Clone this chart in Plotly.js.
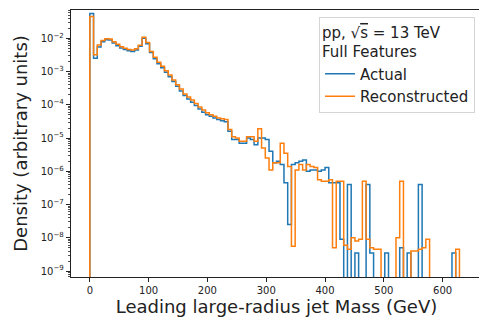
<!DOCTYPE html>
<html>
<head>
<meta charset="utf-8">
<script src="https://cdn.plot.ly/plotly-3.0.1.min.js"></script>
<style>
html,body{margin:0;padding:0;overflow:hidden;background:#fff;}
#chart{width:483px;height:321px;}
</style>
</head>
<body>
<div id="chart"></div>
<script>
// Histogram binning (GeV)
const binStart = 0;
const binWidth = 6.35;
const nBins = 100;

// Density per bin: Actual
const actual = [
  5.6e-2, 2.5e-3, 5.5e-3, 7.8e-3, 9.0e-3, 8.8e-3, 7.2e-3, 6.0e-3, 5.1e-3, 4.6e-3,
  4.2e-3, 4.0e-3, 4.4e-3, 5.8e-3, 1.0e-2, 6.8e-3, 3.7e-3, 2.4e-3, 1.7e-3, 1.3e-3,
  9.5e-4, 7.0e-4, 5.0e-4, 3.6e-4, 2.6e-4, 1.9e-4, 1.5e-4, 1.2e-4, 9.5e-5, 7.5e-5,
  6.0e-5, 5.0e-5, 4.5e-5, 4.0e-5, 3.6e-5, 3.3e-5, 3.1e-5, 1.6e-5, 9e-6, 9e-6,
  7e-6, 7e-6, 1.0e-5, 9e-6, 6.3e-6, 1.0e-5, 1.0e-5, 9e-6, 4e-6, 1.8e-6,
  2.0e-6, 1.6e-6, 4.5e-7, 2.5e-8, 1.6e-6, 1.8e-6, 2.0e-6, 2.2e-6, 1.0e-6, 1.1e-6,
  1.1e-6, 1.0e-6, 1.1e-6, 1.3e-6, 4.5e-7, 4.5e-7, 4.5e-7, 9e-9, 0, 4e-7,
  0, 3.5e-9, 0, 0, 4e-7, 3.5e-9, 0, 0, 0, 3.5e-9,
  0, 0, 0, 5e-9, 0, 3.5e-9, 0, 0, 4e-7, 0,
  0, 0, 0, 0, 0, 0, 0, 3.5e-9, 0, 0
];

// Density per bin: Reconstructed
const reconstructed = [
  4.5e-2, 3.2e-3, 6.3e-3, 8.5e-3, 9.6e-3, 9.5e-3, 7.8e-3, 6.6e-3, 5.6e-3, 5.0e-3,
  4.6e-3, 4.4e-3, 4.8e-3, 6.2e-3, 1.08e-2, 7.5e-3, 4.0e-3, 2.7e-3, 1.9e-3, 1.45e-3,
  1.05e-3, 7.8e-4, 5.6e-4, 4.0e-4, 3.0e-4, 2.1e-4, 1.7e-4, 1.4e-4, 1.1e-4, 8.5e-5,
  7.0e-5, 5.8e-5, 5.0e-5, 4.5e-5, 4.0e-5, 3.8e-5, 3.6e-5, 1.8e-5, 1.1e-5, 1.0e-5,
  8e-6, 8e-6, 1.1e-5, 1.1e-5, 8e-6, 1.9e-5, 5e-6, 2.5e-6, 1.1e-6, 1.8e-6,
  1.8e-6, 7e-6, 3.5e-6, 1.4e-6, 5.6e-9, 1.1e-6, 1.6e-6, 1.1e-6, 1.6e-6, 1.4e-6,
  1.3e-6, 5.6e-7, 5e-7, 5e-7, 5.6e-7, 5e-9, 5e-7, 5e-7, 6e-9, 4.5e-9,
  1e-8, 8e-9, 9e-9, 5e-7, 9e-9, 5e-9, 4.5e-9, 4.5e-9, 0, 0,
  0, 0, 1e-8, 5e-7, 0, 0, 4e-9, 4e-9, 4.5e-9, 5e-9,
  9e-9, 0, 0, 0, 0, 0, 0, 0, 4.5e-9, 0
];

const seriesNames = ["Actual", "Reconstructed"];
const seriesColors = ["#1f77b4", "#ff7f0e"];
const yTickVals = [1e-9, 1e-8, 1e-7, 1e-6, 1e-5, 1e-4, 1e-3, 1e-2];
const yTickText = ["10<sup>−9</sup>", "10<sup>−8</sup>", "10<sup>−7</sup>", "10<sup>−6</sup>",
                   "10<sup>−5</sup>", "10<sup>−4</sup>", "10<sup>−3</sup>", "10<sup>−2</sup>"];
const xTickVals = [0, 100, 200, 300, 400, 500, 600];

// minor log ticks (2..9 in each decade shown)
const yMinorVals = [];
for (let e = -10; e <= -1; e++) for (let m = 2; m <= 9; m++) yMinorVals.push(m * Math.pow(10, e));

// step-outline (matplotlib histtype="step") built from bin edges
const FLOOR = 1e-14; // below the visible range: empty bins drop to the axis
function stepTrace(vals, name, color) {
  const xs = [binStart], ys = [FLOOR];
  for (let i = 0; i < nBins; i++) {
    xs.push(binStart + i * binWidth);
    ys.push(vals[i] > 0 ? vals[i] : FLOOR);
  }
  xs.push(binStart + nBins * binWidth);
  ys.push(FLOOR);
  return {
    type: "scatter", mode: "lines", name: name,
    x: xs, y: ys,
    line: {shape: "hv", color: color, width: 1.5},
    hoverinfo: "skip"
  };
}

const data = [
  stepTrace(actual, seriesNames[0], seriesColors[0]),
  stepTrace(reconstructed, seriesNames[1], seriesColors[1])
];

const font = "DejaVu Sans, Verdana, sans-serif";
const layout = {
  width: 483, height: 321,
  margin: {l: 71, r: 1, t: 10, b: 44},
  paper_bgcolor: "#fff", plot_bgcolor: "#fff",
  font: {family: font, color: "#222"},
  showlegend: true,
  xaxis: {
    range: [-32, 667],
    tickvals: xTickVals,
    ticks: "outside", ticklen: 4, tickwidth: 1, tickcolor: "#222",
    tickfont: {size: 10, family: font, color: "#222"},
    showline: true, linecolor: "#222", linewidth: 1.2, mirror: true,
    showgrid: false, zeroline: false,
    title: {text: "Leading large-radius jet Mass (GeV)", font: {size: 18, family: font, color: "#222"}, standoff: 4}
  },
  yaxis: {
    type: "log",
    range: [-9.18, -1.15],
    tickmode: "array",
    tickvals: yTickVals,
    ticktext: yTickText,
    ticks: "outside", ticklen: 4, tickwidth: 1, tickcolor: "#222",
    tickfont: {size: 10, family: font, color: "#222"},
    minor: {tickmode: "array", tickvals: yMinorVals, ticks: "outside", ticklen: 2, tickwidth: 0.8, tickcolor: "#222", showgrid: false},
    showline: true, linecolor: "#222", linewidth: 1.2, mirror: true,
    showgrid: false, zeroline: false,
    title: {text: "Density (arbitrary units)", font: {size: 18, family: font, color: "#222"}, standoff: 8}
  },
  legend: {
    x: 0.983, y: 0.972, xanchor: "right", yanchor: "top",
    bgcolor: "rgba(255,255,255,0.85)", bordercolor: "#d5d5d5", borderwidth: 1,
    font: {size: 15, family: font, color: "#222"},
    title: {text: "pp, √<span style=\"text-decoration:overline\">s</span> = 13 TeV<br>Full Features", font: {size: 15, family: font, color: "#222"}, side: "top"},
    itemwidth: 30, tracegroupgap: 0
  }
};

Plotly.newPlot("chart", data, layout, {staticPlot: true, displayModeBar: false});
</script>
</body>
</html>
